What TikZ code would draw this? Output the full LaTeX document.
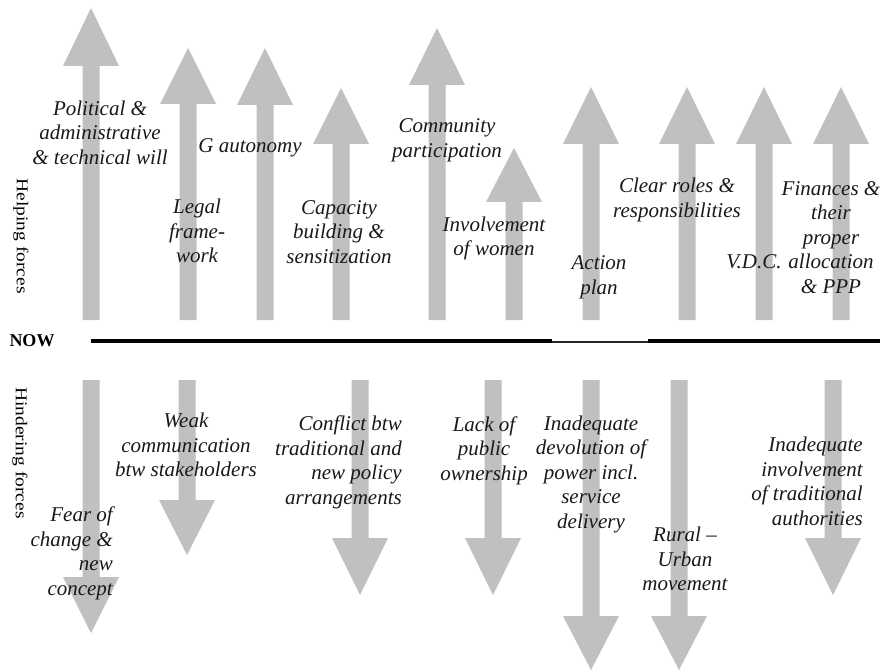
\documentclass[tikz,border=0pt]{standalone}
\usepackage{fontspec}
\setmainfont{Liberation Serif}
\definecolor{arrowgray}{RGB}{192,192,192}
\definecolor{labelink}{RGB}{25,25,25}
\newcommand\blockarrow[4]{% x, tip y, head base y, tail y
  \fill[arrowfill] ({#1-8.5},#4) -- ({#1-8.5},#3) -- ({#1-28},#3) -- (#1,#2)
    -- ({#1+28},#3) -- ({#1+8.5},#3) -- ({#1+8.5},#4) -- cycle;}
\begin{document}
\begin{tikzpicture}[x=1pt,y=-1pt,
  force/.style={font=\itshape\fontsize{21}{24.5}\selectfont, text=labelink, inner sep=0pt, align=center},
  forceR/.style={force, align=right, anchor=east},
  sidelabel/.style={font=\fontsize{16.5}{20}\selectfont, inner sep=0pt, rotate=-90},
  arrowfill/.style={fill=arrowgray}]
\useasboundingbox[fill=white] (0,0) rectangle (883,671);

% helping forces (up)
\blockarrow{91}{8}{66}{320}
\blockarrow{188}{48}{104}{320}
\blockarrow{265}{48}{105}{320}
\blockarrow{341}{88}{144}{320}
\blockarrow{437}{28}{85}{320}
\blockarrow{514}{148}{202}{320}
\blockarrow{591}{87}{144}{320}
\blockarrow{687}{87}{144}{320}
\blockarrow{764}{87}{144}{320}
\blockarrow{841}{87}{144}{320}

% hindering forces (down)
\blockarrow{91}{633}{577}{380}
\blockarrow{187}{555}{500}{380}
\blockarrow{360}{595}{538}{380}
\blockarrow{493}{595}{538}{380}
\blockarrow{591}{670}{616}{380}
\blockarrow{679}{670}{616}{380}
\blockarrow{833}{595}{538}{380}

% NOW line
\node[font=\bfseries\fontsize{18}{20}\selectfont, inner sep=0pt] (now) at (32,341) {NOW};
\draw[line width=4pt] (91,341) -- (552,341);
\draw[line width=1.2pt, black!85] (552,342) -- (648,342);
\draw[line width=4pt] (648,341) -- (880,341);

% side labels
\node[sidelabel] (help) at (21,236) {\scalebox{1.18}[1]{Helping forces}};
\node[sidelabel] (hind) at (20,453) {\scalebox{1.18}[1]{Hindering forces}};

% helping labels
\node[force] (pol) at (100,132.5) {Political \&\\administrative\\\& technical will};
\node[force] (gaut) at (250,148) {G autonomy};
\node[force] (legal) at (197,231) {Legal\\frame-\\work};
\node[force] (cap) at (339,232) {Capacity\\building \&\\sensitization};
\node[force] (comm) at (447,140.5) {Community\\participation};
\node[force] (women) at (494,238.5) {Involvement\\of women};
\node[force] (action) at (599,277.5) {Action\\plan};
\node[force] (roles) at (677,200) {Clear roles \&\\responsibilities};
\node[force] (vdc) at (754,262) {V.D.C.};
\node[force] (fin) at (831,237.5) {Finances \&\\their\\proper\\allocation\\\& PPP};

% hindering labels
\node[forceR] (fear) at (113,553.5) {Fear of\\change \&\\new\\concept};
\node[force] (weak) at (186,445) {Weak\\communication\\btw stakeholders};
\node[forceR] (confl) at (402,462.5) {Conflict btw\\traditional and\\new policy\\arrangements};
\node[force] (lack) at (484,450.5) {Lack of\\public\\ownership};
\node[force] (devol) at (591,474) {Inadequate\\devolution of\\power incl.\\service\\delivery};
\node[force] (rural) at (685,559) {Rural --\\Urban\\movement};
\node[forceR] (trad) at (863,481.5) {Inadequate\\involvement\\of traditional\\authorities};
\end{tikzpicture}
\end{document}
